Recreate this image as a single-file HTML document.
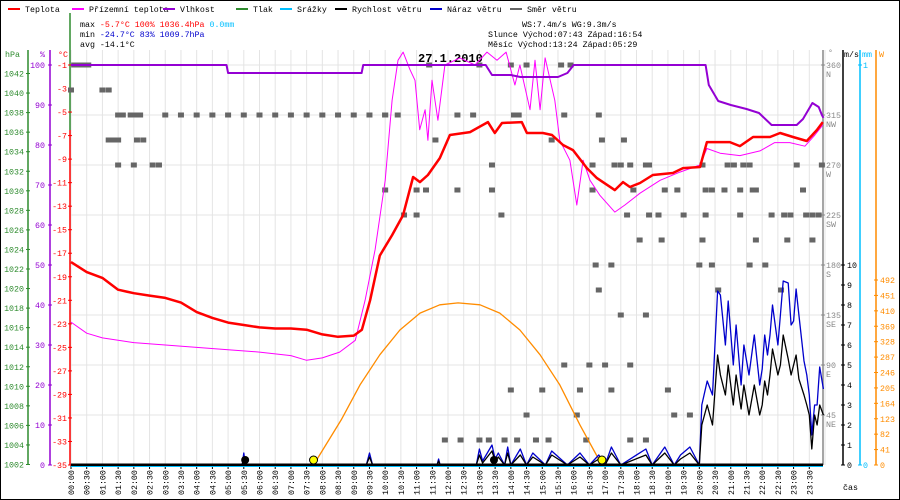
<!DOCTYPE html>
<html><head><meta charset="utf-8"><style>
html,body{margin:0;padding:0;background:#fff;width:900px;height:500px;overflow:hidden}
svg{display:block;font-family:"Liberation Mono",monospace}
</style></head><body>
<svg id="c" width="900" height="500" viewBox="0 0 900 500" xmlns="http://www.w3.org/2000/svg">
<rect x="0.5" y="0.5" width="899" height="499" fill="#fff" stroke="#000"/>
<g id="grid"></g>
<g id="legend" font-size="8.3"></g>
<g font-size="8.3">
<text x="80" y="27" fill="#000">max <tspan fill="#f00">-5.7°C 100%  1036.4hPa</tspan>   <tspan fill="#00bfff">0.0mm</tspan></text>
<text x="80" y="37" fill="#000">min <tspan fill="#0000cc">-24.7°C 83%  1009.7hPa</tspan></text>
<text x="80" y="47" fill="#000">avg -14.1°C</text>
<text x="522" y="27" fill="#000">WS:7.4m/s     WG:9.3m/s</text>
<text x="488" y="37" fill="#000">Slunce Východ:07:43  Západ:16:54</text>
<text x="488" y="47" fill="#000">Měsíc  Východ:13:24  Západ:05:29</text>
</g>
<text x="418" y="62" font-size="12" font-weight="bold" fill="#000">27.1.2010</text>
<g id="axes" font-size="8.3"></g>
<g id="series"></g>
</svg>
<script>
const hours=[0,0.5,1,1.5,2,2.5,3,3.5,4,4.5,5,5.5,6,6.5,7,7.5,8,8.5,9,9.26,9.52,9.83,10.22,10.57,10.89,11.11,11.36,11.74,12.06,12.7,13.27,13.49,13.72,14.35,14.51,15.02,15.31,15.66,15.98,16.42,16.74,17.31,17.57,17.79,18.11,18.52,19.16,19.48,20.02,20.24,20.97,21.29,21.71,22.25,22.57,22.98,23.42,23.74,23.93];
const temps=[-17.75,-18.6,-19.1,-20.1,-20.4,-20.6,-20.8,-21.2,-22.0,-22.5,-22.9,-23.1,-23.3,-23.4,-23.4,-23.5,-23.9,-24.1,-24.0,-23.5,-21.0,-17.2,-15.46,-13.76,-10.52,-10.95,-10.35,-8.91,-6.95,-6.7,-5.85,-6.78,-5.93,-5.85,-6.78,-6.78,-6.95,-7.8,-8.23,-9.76,-10.61,-11.63,-10.95,-11.37,-11.03,-10.35,-10.18,-9.76,-9.67,-7.55,-7.55,-7.89,-7.12,-7.12,-6.78,-7.12,-7.46,-6.53,-5.85];
const groundHours=[0,0.5,1,2,3,4,5,6,7,7.5,8,8.55,9.05,9.36,9.68,10,10.22,10.41,10.57,10.79,10.95,11.1,11.27,11.36,11.49,11.68,11.9,12.38,12.86,13.24,13.56,13.85,14.13,14.29,14.61,14.77,14.93,15.09,15.4,15.56,15.88,16.1,16.3,16.52,16.84,17.31,17.63,18.11,18.75,19.38,20.02,20.24,20.66,21.29,21.93,22.4,22.88,23.36,23.68,23.93];
const groundTemps=[-22.85,-23.8,-24.2,-24.6,-24.8,-25.0,-25.2,-25.4,-25.7,-26.1,-25.9,-25.4,-24.4,-21.0,-16.7,-10.8,-4.0,-0.6,0.1,-1.4,-2.3,-6.5,-4.8,-7.4,-2.3,-5.7,-1.0,-0.4,-1.0,0.1,-0.6,0.1,-2.7,-1.0,-4.8,-0.6,-4.8,-0.4,-4.0,-7.4,-9.1,-12.9,-9.1,-10.8,-12.1,-13.5,-12.9,-11.9,-10.8,-10.1,-9.5,-8.1,-8.5,-8.7,-8.3,-7.6,-7.6,-7.9,-6.95,-6.1];
const humHours=[0,4.95,5.0,9.25,9.3,13.2,13.4,14.0,14.3,15.0,15.5,15.8,16.0,20.2,20.3,20.6,21.0,21.5,21.9,22.3,22.5,22.7,23.1,23.3,23.6,23.8,23.9,23.95];
const humidity=[100,100,98,98,100,100,97.5,97.5,97,97,97,98,100,100,95,91,90,89,88,85,85,85,85,86.5,90.5,89.5,87.5,86.8];
const windHours=[0,5.45,5.5,5.55,9.4,9.5,9.6,11.65,11.7,11.75,12.9,13.0,13.1,13.4,13.5,13.6,13.8,13.9,14.0,14.3,14.5,14.7,15.1,15.3,15.8,16.2,16.5,16.8,17.0,17.2,17.5,18.3,18.5,18.9,19.2,19.4,19.7,20.0,20.08,20.25,20.42,20.58,20.67,20.83,20.92,21.08,21.17,21.33,21.42,21.58,21.75,21.92,22.0,22.08,22.17,22.25,22.33,22.5,22.58,22.67,22.83,22.92,23.0,23.08,23.17,23.33,23.42,23.5,23.58,23.67,23.75,23.83,23.95];
const windSpeed=[0,0,0.4,0,0,0.4,0,0,0.2,0,0,0.5,0.1,0.7,0.2,0.4,0,0.6,0,0.5,0,0.4,0,0.5,0,0.4,0,0.3,0,0.6,0,0.5,0,0.6,0,0.3,0.6,0,2,3,2,5.5,4.5,3.5,5,3,4.5,2.8,4,2.5,4,2.5,3,4.2,3.5,4.5,5.8,4.5,5,6.5,5.3,4.5,5,5.5,4.3,3.5,3,2.5,0.8,2.5,2,3,2.5];
const gustSpeed=[0,0,0.6,0,0,0.6,0,0,0.3,0,0,0.8,0.2,1.0,0.3,0.6,0,0.9,0,0.8,0,0.6,0,0.7,0,0.6,0,0.5,0,0.9,0,0.8,0,0.9,0,0.5,0.9,0,3,4.2,3.5,8.7,8.5,6,8.2,5,7,4,6,4.5,6.5,4,4.8,6.5,5.5,6.5,8,6,7.5,9.2,9.1,7,7.2,8.8,7.5,5.2,4.5,3.5,1.5,3,3,4.9,3.8];
const sunHours=[7.72,8.6,9.2,9.83,10.47,11.11,11.74,12.32,13.02,13.65,14.29,14.93,15.56,16.2,16.9];
const sunWatts=[0,120,213,293,359,404,426,431,426,404,359,293,213,106,0];
const dirHours=[0.1,0.2,0.3,0.45,0.55,0,1.0,1.2,1.5,1.65,1.9,2.05,2.2,3.0,3.5,4.0,4.5,5.0,5.5,6.0,6.5,7.0,7.5,8.0,8.5,9.0,9.5,10.0,1.2,1.35,1.5,2.1,2.3,1.5,2.0,2.6,2.8,11.4,13.0,14.0,14.5,15.6,15.9,10.0,10.4,12.3,12.8,14.1,14.25,15.7,16.8,11.6,15.3,16.9,17.6,13.4,16.6,17.3,17.5,17.8,18.3,18.4,20.1,20.9,21.1,21.4,21.6,23.1,23.9,10.0,11.0,11.3,12.3,13.4,16.6,17.9,18.9,19.3,20.2,20.4,20.8,21.3,21.7,21.8,23.3,10.6,11.0,13.7,17.7,18.4,18.7,19.5,20.2,21.3,22.3,22.7,22.9,23.4,23.6,23.8,18.1,18.8,20.1,21.8,22.8,23.6,16.7,17.2,20.0,20.4,21.6,22.1,16.8,20.6,22.6,17.5,18.3,15.7,16.5,17.0,17.8,14.0,15.0,16.2,17.2,19.0,14.5,16.1,19.2,19.7,11.9,12.4,13.0,13.3,13.8,14.2,14.8,15.2,16.4,17.8,18.3];
const dirDegrees=[360,360,360,360,360,337.5,337.5,337.5,315,315,315,315,315,315,315,315,315,315,315,315,315,315,315,315,315,315,315,315,292.5,292.5,292.5,292.5,292.5,270,270,270,270,360,360,360,360,360,360,315,315,315,315,315,315,315,315,292.5,292.5,292.5,292.5,270,270,270,270,270,270,270,270,270,270,270,270,270,270,247.5,247.5,247.5,247.5,247.5,247.5,247.5,247.5,247.5,247.5,247.5,247.5,247.5,247.5,247.5,247.5,225,225,225,225,225,225,225,225,225,225,225,225,225,225,225,202.5,202.5,202.5,202.5,202.5,202.5,180,180,180,180,180,180,157.5,157.5,157.5,135,135,90,90,90,90,67.5,67.5,67.5,67.5,67.5,45,45,45,45,22.5,22.5,22.5,22.5,22.5,22.5,22.5,22.5,22.5,22.5,22.5];
const hpaTicks=[1042,1040,1038,1036,1034,1032,1030,1028,1026,1024,1022,1020,1018,1016,1014,1012,1010,1008,1006,1004,1002];
const pctTicks=[100,90,80,70,60,50,40,30,20,10,0];
const tempTicks=[-1,-3,-5,-7,-9,-11,-13,-15,-17,-19,-21,-23,-25,-27,-29,-31,-33,-35];
const dirTicks=[360,315,270,225,180,135,90,45];
const dirNames=["N","NW","W","SW","S","SE","E","NE"];
const msTicks=[0,1,2,3,4,5,6,7,8,9,10];
const wTicks=[0,41,82,123,164,205,246,287,328,369,410,451,492];

const NS='http://www.w3.org/2000/svg';
const X0=71,X1=825,YB=465;
const xS=h=>X0+h*(X1-X0)/24;
const yT=t=>65+(-1-t)*400/34;
const yP=p=>YB-p*4;
const yH=p=>73.5+(1042-p)*9.775;
const yD=d=>YB-d*400/360;
const yW=v=>YB-v*20;
const yR=w=>YB-w*0.376;
function mk(tag,attrs,parent){const e=document.createElementNS(NS,tag);for(const k in attrs)e.setAttribute(k,attrs[k]);parent.appendChild(e);return e;}
const G=id=>document.getElementById(id);
const grid=G('grid'),axes=G('axes'),ser=G('series'),leg=G('legend');

for(let i=0;i<=48;i++){const x=xS(i/2);
 const l=mk('line',{x1:x,x2:x,y1:50,y2:YB,stroke:'#e4e4e4'},grid);
 
 if(i<48){const t=mk('text',{x:0,y:0,'font-size':'8.3',fill:'#000',transform:`translate(${x+3},495) rotate(-90)`},axes);
 t.textContent=String(Math.floor(i/2)).padStart(2,'0')+':'+(i%2?'30':'00');
 
 mk('line',{x1:x,x2:x,y1:YB,y2:YB+4,stroke:'#000'},axes);}
}
for(const d of dirTicks){const y=yD(d);const l=mk('line',{x1:X0,x2:823,y1:y,y2:y,stroke:'#e4e4e4'},grid);
 }

const legItems=[['Teplota','#f00',8],['Přízemní teplota','#f0f',72],['Vlhkost','#9400d3',163],['Tlak','#2e8b2e',236],['Srážky','#00bfff',280],['Rychlost větru','#000',335],['Náraz větru','#0000cc',430],['Směr větru','#666',510]];
for(const [n,c,x] of legItems){const g=mk('g',{},leg);
 
 mk('line',{x1:x,x2:x+12,y1:9,y2:9,stroke:c,'stroke-width':2},g);
 const t=mk('text',{x:x+17,y:12,fill:'#000'},g);t.textContent=n;}

function axisLine(x,y1,y2,c,name){const l=mk('line',{x1:x,x2:x,y1:y1,y2:y2,stroke:c,'stroke-width':1.5},axes);}
axisLine(28,50,YB,'#2e8b2e','hpa-axis');axisLine(50,50,YB,'#9400d3','humidity-axis');axisLine(70,130,YB,'#f00','temp-axis');axisLine(70,13,130,'#2e8b2e','pressure-top-line');
axisLine(823,50,YB,'#888','direction-axis');axisLine(843,50,YB,'#000','wind-axis');axisLine(860,50,YB,'#00bfff','precip-axis');axisLine(876,50,YB,'#ff8c00','radiation-axis');
function hdr(x,y,txt,c,anchor){const t=mk('text',{x:x,y:y,fill:c,'text-anchor':anchor||'start'},axes);t.textContent=txt;}
hdr(5,57,'hPa','#2e8b2e');hdr(40,57,'%','#9400d3');hdr(58,57,'°C','#f00');hdr(828,55,'°','#888');hdr(844,57,'m/s','#000');hdr(862,57,'mm','#00bfff');hdr(879,57,'W','#ff8c00');hdr(843,490,'čas','#000');
function tick(x,y,txt,c,anchor,tx){mk('line',{x1:x-2,x2:x+2,y1:y,y2:y,stroke:c},axes);const t=mk('text',{x:tx,y:y+3,fill:c,'text-anchor':anchor},axes);t.textContent=txt;}
for(const p of hpaTicks)tick(28,yH(p),p,'#2e8b2e','end',24);
for(const p of pctTicks)tick(50,yP(p),p,'#9400d3','end',45);
for(const t of tempTicks)tick(70,yT(t),t,'#f00','end',67);
dirTicks.forEach((d,i)=>{tick(823,yD(d),d,'#888','start',826);const t=mk('text',{x:826,y:yD(d)+12,fill:'#888'},axes);t.textContent=dirNames[i];});
for(const v of msTicks)tick(843,yW(v),v,'#000','start',847);
for(const w of wTicks)tick(876,yR(w),w,'#ff8c00','start',880);
tick(860,YB,'0','#00bfff','start',863);tick(860,65,'1','#00bfff','start',863);

function poly(xs,ys,fx,fy,c,w,name){const pts=xs.map((h,i)=>xS(h).toFixed(1)+','+fy(ys[i]).toFixed(1)).join(' ');const p=mk('polyline',{points:pts,fill:'none',stroke:c,'stroke-width':w,'stroke-linejoin':'round'},ser);}
dirHours.forEach((h,i)=>{const r=mk('rect',{x:xS(h)-3,y:yD(dirDegrees[i])-2.5,width:6,height:5,fill:'#666'},ser);
 });
poly(sunHours,sunWatts,xS,yR,'#ff8c00',1.3,'solar-radiation-line');
poly(groundHours,groundTemps,xS,yT,'#f0f',1,'ground-temperature-line');
poly(humHours,humidity,xS,yP,'#9400d3',2,'humidity-line');
poly(hours,temps,xS,yT,'#f00',2.5,'temperature-line');
poly(windHours,gustSpeed,xS,yW,'#0000cc',1.3,'wind-gust-line');
poly(windHours,windSpeed,xS,yW,'#000',1.3,'wind-speed-line');
const bl=mk('line',{x1:X0,x2:823,y1:YB,y2:YB,stroke:'#000','stroke-width':3},ser);
const pl=mk('line',{x1:X0,x2:823,y1:YB+1.5,y2:YB+1.5,stroke:'#00bfff','stroke-width':1},ser);
for(const h of [7.72,16.9]){const c=mk('circle',{cx:xS(h),cy:460,r:4,fill:'#ff0',stroke:'#000'},ser);}
for(const h of [5.48,13.4]){const c=mk('circle',{cx:xS(h)+2,cy:460,r:4,fill:'#000'},ser);}
</script>
</body></html>
